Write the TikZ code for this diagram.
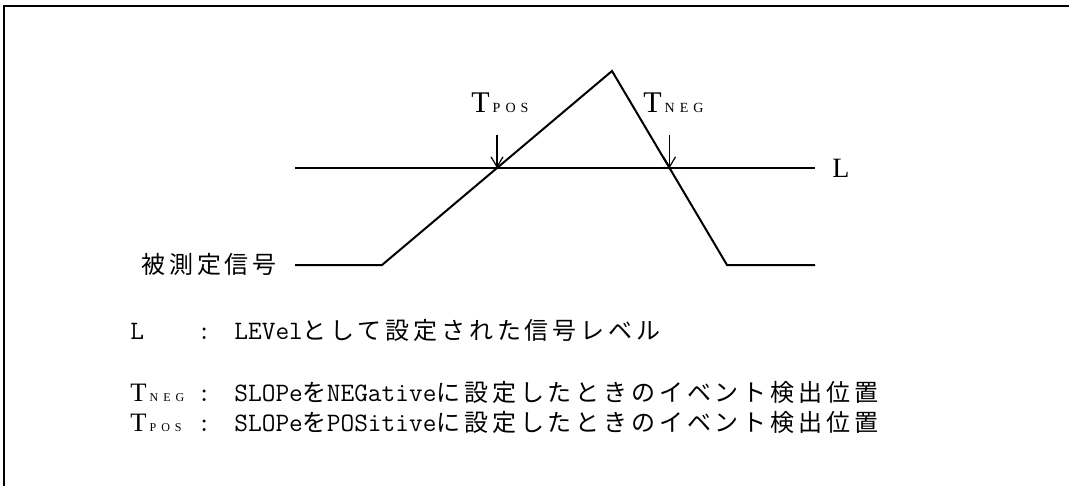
\documentclass[tikz,border=0pt]{standalone}
\usepackage{fontspec}
\setmainfont{Liberation Serif}
\newfontfamily\jpfont[LetterSpace=16]{Noto Sans CJK JP}
\usetikzlibrary{arrows.meta,calc}
\newcommand\jp[1]{{\fontsize{12}{12}\jpfont #1}}
% T with spaced small letters
\newcommand\tsub[5]{T\kern1.5pt{\fontsize{#1}{#1}\selectfont #2\kern2.5pt #3\kern2.5pt #4\kern2pt}#5}

\begin{document}
\begin{tikzpicture}[x=0.5pt,y=-0.5pt,>={Straight Barb[length=5pt,width=6pt]},
    sig/.style={line width=1pt},
    tarrow/.style={->,line width=0.6pt},
    lab/.style={inner sep=0pt,anchor=base west},
    leg/.style={lab,font=\fontsize{13.3}{13.3}\ttfamily}]
\useasboundingbox (0,0) rectangle (1069,486);
% frame
\draw[line width=1pt] (1069,6) -- (4,6) -- (4,486);
% level line
\coordinate (lstart) at (295,168);
\coordinate (lend) at (815,168);
\draw[sig] (lstart) -- (lend);
\node[lab,font=\fontsize{14}{14}\selectfont] (lname) at (832,177) {L};
% measured signal
\coordinate (s0) at (295,265);
\coordinate (s1) at (382,265);
\coordinate (peak) at (612,71);
\coordinate (s2) at (727,265);
\coordinate (s3) at (815,265);
\draw[sig] (s0) -- (s1) -- (peak) -- (s2) -- (s3);
\node[lab] (sname) at (141,273) {\jp{被測定信号}};
% event points
\coordinate (xpos) at ($(s1)!0.5!(peak)$);
\coordinate (xneg) at ($(peak)!0.5!(s2)$);
\coordinate (xposup) at ($(xpos)+(0,-33)$);
\coordinate (xnegup) at ($(xneg)+(0,-33)$);
\draw[tarrow] (xposup) -- (xpos);
\draw[tarrow] (xnegup) -- (xneg);
\node[lab,font=\fontsize{15}{15}\selectfont] (tpos) at (471,113) {\tsub{7}{P}{O}{S}{}};
\node[lab,font=\fontsize{15}{15}\selectfont] (tneg) at (643,113) {\tsub{7}{N}{E}{G}{}};
% legend
\node[leg] (lkey) at (130,339) {L};
\node[leg] (lcolon) at (197,339) {:};
\node[leg] (ltext) at (234,339) {LEVel\jp{として設定された信号レベル}};
\node[leg] (nkey) at (130,401) {\rmfamily\tsub{6}{N}{E}{G}{}};
\node[leg] (ncolon) at (197,401) {:};
\node[leg] (ntext) at (234,401) {SLOPe\jp{を}NEGative\jp{に設定したときのイベント検出位置}};
\node[leg] (pkey) at (130,431) {\rmfamily\tsub{6}{P}{O}{S}{}};
\node[leg] (pcolon) at (197,431) {:};
\node[leg] (ptext) at (234,431) {SLOPe\jp{を}POSitive\jp{に設定したときのイベント検出位置}};
\end{tikzpicture}
\end{document}
